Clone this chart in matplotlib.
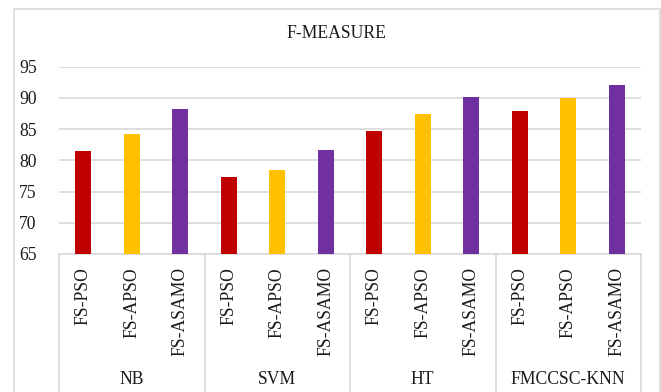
import matplotlib
matplotlib.use("Agg")
import matplotlib.pyplot as plt
from matplotlib.patches import Rectangle
import numpy as np

# F-measure per classifier and feature selection method
classifiers = ["NB", "SVM", "HT", "FMCCSC-KNN"]
methods = ["FS-PSO", "FS-APSO", "FS-ASAMO"]
fs_pso = [81.5, 77.3, 84.7, 87.9]
fs_apso = [84.2, 78.5, 87.4, 90.0]
fs_asamo = [88.2, 81.7, 90.1, 92.1]
colors = ["#C00000", "#FFC000", "#7030A0"]

plt.rcParams["font.family"] = ["Liberation Serif", "DejaVu Serif"]
txt = "#1a1a1a"
grey = "#d9d9d9"
fs = 12.7

fig = plt.figure(figsize=(6.61, 3.92), dpi=100)
W, H = 661, 392
ax = fig.add_axes([59 / W, 1 - 254 / H, (641 - 59) / W, (254 - 66.7) / H])

# interleave series so each classifier gets its three bars side by side
vals = np.column_stack([fs_pso, fs_apso, fs_asamo]).ravel()
x = np.arange(len(vals))
bar_cols = colors * len(classifiers)
ax.bar(x, vals - 65, bottom=65, width=0.32, color=bar_cols, zorder=3)

ax.set_xlim(-0.5, len(vals) - 0.5)
ax.set_ylim(65, 95)
ax.set_yticks(np.arange(65, 96, 5))
ax.yaxis.grid(True, color=grey, linewidth=1.2, zorder=0)
ax.set_axisbelow(True)
ax.tick_params(axis="y", length=0, pad=16, labelsize=fs, labelcolor=txt)
ax.set_xticks([])
for s in ["top", "left", "right"]:
    ax.spines[s].set_visible(False)
ax.spines["bottom"].set_color(grey)
ax.spines["bottom"].set_linewidth(1.2)

# method labels under each bar, group names below them
tr = ax.get_xaxis_transform()
h_ax = 254 - 66.7
for i, xi in enumerate(x):
    ax.text(xi, -(267 - 254) / h_ax, methods[i % 3], rotation=90, ha="center",
            va="top", fontsize=fs, color=txt, transform=tr)
for g, name in enumerate(classifiers):
    ax.text(g * 3 + 1, -(379 - 254) / h_ax, name, ha="center", va="center",
            fontsize=fs, color=txt, transform=tr)

# separators between classifier groups
for b in np.arange(-0.5, len(vals), 3):
    ax.plot([b, b], [0, -(392 - 254) / h_ax], color=grey, linewidth=1.2,
            transform=tr, clip_on=False)

# chart frame and title
fig.add_artist(Rectangle((14 / W, -0.05), (659.5 - 14) / W, 1.05 - 9 / H,
                         transform=fig.transFigure, fill=False,
                         edgecolor=grey, linewidth=1.2))
fig.text(336 / W, 1 - 33 / H, "F-MEASURE", ha="center", va="center",
         fontsize=fs, color=txt)

fig.savefig("out.png", dpi=100)
